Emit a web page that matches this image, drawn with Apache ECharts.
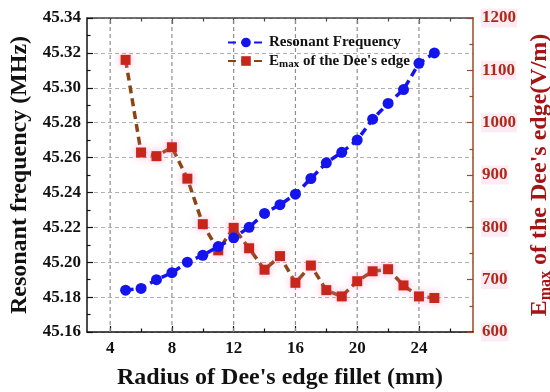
<!DOCTYPE html>
<html>
<head>
<meta charset="utf-8">
<script src="https://cdn.jsdelivr.net/npm/echarts@6/dist/echarts.min.js"></script>
<style>html,body{margin:0;padding:0;background:#fff}#c{width:550px;height:392px}</style>
</head>
<body>
<div id="c"></div>
<script>
// Data
const radius = [5,6,7,8,9,10,11,12,13,14,15,16,17,18,19,20,21,22,23,24,25];
const resonantFreq = [45.184,45.185,45.190,45.194,45.200,45.204,45.209,45.214,45.220,45.228,45.233,45.239,45.248,45.257,45.263,45.270,45.282,45.291,45.299,45.314,45.320];
const emax = [1120,943,936,953,893,806,756,799,760,719,745,694,727,680,668,697,716,720,689,668,665];
const xMajorTicks = [4,8,12,16,20,24];
const xMinorTicks = [6,10,14,18,22,26];
const freqName = 'Resonant Frequency';
const emaxName = "Emax of the Dee's edge";

const FONT = '"Liberation Serif","Times New Roman",serif';
const chart = echarts.init(document.getElementById('c'), null, {renderer:'canvas'});

const gridLineStyle = {color:'#b0b0b0', type:[4,3], width:1};
const xMin = 2.5, xMax = 27.5;
const yMin = 45.16, yMax = 45.34;
const xBase = {type:'value', min:xMin, max:xMax, gridIndex:0};

// vertical grid lines at the major x ticks, drawn as plain series through the axes
const gridSeries = xMajorTicks.map(function(v){
  return {
    type:'line', xAxisIndex:0, yAxisIndex:0, silent:true, symbol:'none',
    data:[[v, yMin],[v, yMax]],
    lineStyle:{color:'#8e8e8e', type:[4,3], width:1.2},
    emphasis:{disabled:true}, tooltip:{show:false}, z:1
  };
});

const option = {
  animation:false,
  backgroundColor:'#fff',
  grid:{left:87, right:77, top:18, bottom:60, containLabel:false, outerBoundsMode:'none'},
  legend:{
    orient:'vertical', left:222, top:30, itemWidth:36, itemHeight:12, itemGap:3,
    data:[freqName, emaxName],
    textStyle:{fontFamily:FONT, fontWeight:'bold', fontSize:15, color:'#111',
      rich:{
        a:{fontFamily:FONT, fontWeight:'bold', fontSize:15, color:'#111', lineHeight:18},
        s:{fontFamily:FONT, fontWeight:'bold', fontSize:11, color:'#111', lineHeight:18, verticalAlign:'bottom', padding:[6,0,0,0]}
      }},
    formatter:function(n){ return n===freqName ? '{a|Resonant Frequency}' : "{a|E}{s|max}{a| of the Dee's edge}"; }
  },
  xAxis:[
    Object.assign({}, xBase, {
      position:'bottom',
      name:"Radius of Dee's edge fillet (mm)", nameLocation:'middle', nameGap:34,
      nameTextStyle:{fontFamily:FONT, fontWeight:'bold', fontSize:24, color:'#111'},
      axisLine:{show:true, lineStyle:{color:'#111', width:1.5}},
      axisTick:{show:true, inside:true, length:6, customValues:xMajorTicks, lineStyle:{color:'#111', width:1.2}},
      axisLabel:{show:true, customValues:xMajorTicks, margin:8, fontFamily:FONT, fontWeight:'bold', fontSize:17, color:'#111'},
      splitLine:{show:false}
    }),
    Object.assign({}, xBase, {
      position:'top',
      axisLine:{show:true, lineStyle:{color:'#444', width:1.5}},
      axisTick:{show:true, inside:true, length:6, customValues:xMajorTicks, lineStyle:{color:'#444', width:1.2}},
      axisLabel:{show:false}, splitLine:{show:false}
    }),
    Object.assign({}, xBase, {
      position:'bottom',
      axisLine:{show:false},
      axisTick:{show:true, inside:true, length:3.5, customValues:xMinorTicks, lineStyle:{color:'#111', width:1.2}},
      axisLabel:{show:false}, splitLine:{show:false}
    }),
    Object.assign({}, xBase, {
      position:'top',
      axisLine:{show:false},
      axisTick:{show:true, inside:true, length:3.5, customValues:xMinorTicks, lineStyle:{color:'#444', width:1.2}},
      axisLabel:{show:false}, splitLine:{show:false}
    })
  ],
  yAxis:[
    {
      type:'value', min:yMin, max:yMax, interval:0.02, position:'left',
      name:'Resonant frequency (MHz)', nameLocation:'middle', nameGap:52, nameRotate:90,
      nameTextStyle:{fontFamily:FONT, fontWeight:'bold', fontSize:24, color:'#111'},
      axisLine:{show:true, lineStyle:{color:'#111', width:1.5}},
      axisTick:{show:true, inside:true, length:6, lineStyle:{color:'#111', width:1.2}},
      minorTick:{show:true, splitNumber:2, length:3.5, lineStyle:{color:'#111', width:1.2}},
      axisLabel:{margin:6, fontFamily:FONT, fontWeight:'bold', fontSize:17, color:'#111',
        formatter:function(v){return v.toFixed(2);}},
      splitLine:{show:true, lineStyle:gridLineStyle}
    },
    {
      type:'value', min:600, max:1200, interval:100, position:'right',
      name:"{a|E}{s|max}{a| of the Dee's edge(V/m)}", nameLocation:'middle', nameGap:46, nameRotate:90,
      nameTextStyle:{color:'#a51515',
        rich:{
          a:{fontFamily:FONT, fontWeight:'bold', fontSize:24, color:'#a51515', lineHeight:28},
          s:{fontFamily:FONT, fontWeight:'bold', fontSize:16, color:'#a51515', lineHeight:28, verticalAlign:'bottom', padding:[9,0,0,0]}
        }},
      axisLine:{show:true, lineStyle:{color:'#9a4a22', width:1.5}},
      axisTick:{show:true, inside:true, length:6, lineStyle:{color:'#9a4a22', width:1.2}},
      minorTick:{show:true, splitNumber:2, length:3.5, lineStyle:{color:'#9a4a22', width:1.2}},
      axisLabel:{margin:8, fontFamily:FONT, fontWeight:'bold', fontSize:17, color:'#b0281a',
        backgroundColor:'#fdebf3', padding:[1,1,1,1],
        formatter:function(v){return String(v);}},
      splitLine:{show:false}
    }
  ],
  series:gridSeries.concat([
    {
      name:freqName, type:'line', xAxisIndex:0, yAxisIndex:0,
      data:radius.map(function(x,i){return [x, resonantFreq[i]];}),
      symbol:'circle', symbolSize:11,
      itemStyle:{color:'#1414ee'},
      lineStyle:{color:'#1414ee', width:3.5, type:[8,5]},
      z:3
    },
    {
      name:emaxName, type:'line', xAxisIndex:0, yAxisIndex:1,
      data:radius.map(function(x,i){return [x, emax[i]];}),
      symbol:'rect', symbolSize:10,
      itemStyle:{color:'#c8261a', shadowBlur:8, shadowColor:'rgba(255,140,200,0.7)'},
      lineStyle:{color:'#8b4513', width:3.5, type:[8,5]},
      z:2
    }
  ])
};
chart.setOption(option);
</script>
</body>
</html>
